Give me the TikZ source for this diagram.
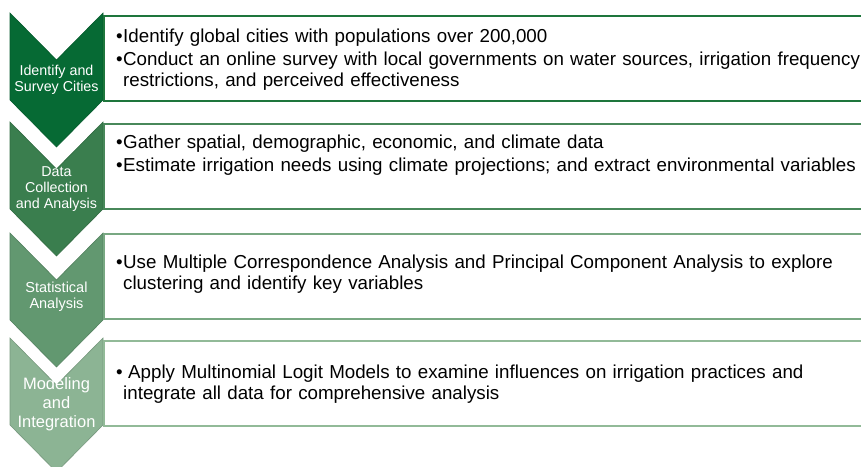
\documentclass[tikz,border=0pt]{standalone}
\usepackage{fontspec}
\setmainfont{Liberation Sans}
\usetikzlibrary{calc}
\definecolor{cA}{RGB}{6,106,52}
\definecolor{cB}{RGB}{58,126,78}
\definecolor{cC}{RGB}{98,152,112}
\definecolor{cD}{RGB}{140,180,148}
\definecolor{bA}{RGB}{30,118,60}
\definecolor{bB}{RGB}{72,136,90}
\definecolor{bC}{RGB}{120,168,130}
\definecolor{bD}{RGB}{146,186,152}
\newcommand\bp[1]{\makebox[7pt][l]{\textbullet}\parbox[t]{745pt}{\raggedright #1}}
\newcommand\chev[3]{% top, fill, name
  \path[fill=#2, draw=#2!85!black, line width=0.6pt]
    (10,#1) -- (56.5,#1+47) -- (103,#1) -- (103,#1+87) -- (56.5,#1+134) -- (10,#1+87) -- cycle;
  \coordinate (#3) at (56.5,#1+67);}
\tikzset{
  box/.style={draw=#1, line width=2.2pt, fill=white, anchor=north west,
    minimum width=780pt, minimum height=85pt, inner sep=0pt},
  lab/.style={text=white, align=center, inner sep=0pt, font=\fontsize{14.3}{16}\selectfont},
  txt/.style={anchor=base west, inner sep=0pt, text width=760pt, align=left,
    font=\fontsize{18.75}{21}\selectfont}
}
\begin{document}
\begin{tikzpicture}[x=1pt,y=-1pt]
\useasboundingbox (0,0) rectangle (861,466);
\clip (0,0) rectangle (861,466);
% step 1
\chev{13}{cA}{c1}
\node[box=bA] (b1) at (103,15) {};
\node[lab] (l1) at ($(c1)+(0,0)$) {Identify and\\Survey Cities};
\node[txt] (t1) at (116,42) {\bp{Identify global cities with populations over 200,000}\par\vspace{2pt}\bp{Conduct an online survey with local governments on water sources, irrigation frequency\\restrictions, and perceived effectiveness}};
% step 2
\chev{122}{cB}{c2}
\node[box=bB] (b2) at (103,123) {};
\node[lab] (l2) at ($(c2)+(0,0)$) {Data\\Collection\\and Analysis};
\node[txt] (t2) at (116,148) {\bp{Gather spatial, demographic, economic, and climate data}\par\vspace{2pt}\bp{Estimate irrigation needs using climate projections; and extract environmental variables}};
% step 3
\chev{233}{cC}{c3}
\node[box=bC] (b3) at (103,233) {};
\node[lab, font=\fontsize{14.5}{16}\selectfont] (l3) at ($(c3)+(0,-3)$) {Statistical\\Analysis};
\node[txt] (t3) at (116,268) {\bp{Use Multiple Correspondence Analysis and Principal Component Analysis to explore\\clustering and identify key variables}};
% step 4
\chev{338}{cD}{c4}
\node[box=bD] (b4) at (103,340) {};
\node[lab, font=\fontsize{16.5}{19}\selectfont] (l4) at ($(c4)+(0,-1)$) {Modeling\\and\\Integration};
\node[txt] (t4) at (116,378) {\bp{\hspace{5pt}Apply Multinomial Logit Models to examine influences on irrigation practices and\\integrate all data for comprehensive analysis}};
\end{tikzpicture}
\end{document}
